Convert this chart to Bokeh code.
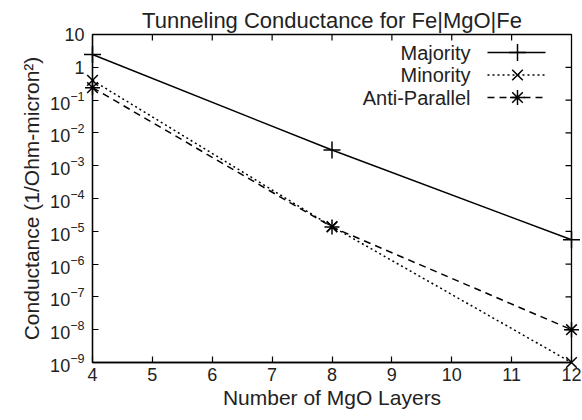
import math

from bokeh.plotting import figure
from bokeh.models import FixedTicker, LogTickFormatter, Range1d, ColumnDataSource
from bokeh.embed import file_html
from bokeh.resources import INLINE
from bokeh.core.properties import value

# Tunneling conductance vs. number of MgO layers
layers = [4, 8, 12]
majority = [2.45, 3.0e-3, 5.5e-6]
minority = [0.40, 1.4e-5, 1.0e-9]
anti_parallel = [0.24, 1.35e-5, 1.0e-8]

series_names = ["Majority", "Minority", "Anti-Parallel"]
x_ticks = [4, 5, 6, 7, 8, 9, 10, 11, 12]
y_ticks = [1e-9, 1e-8, 1e-7, 1e-6, 1e-5, 1e-4, 1e-3, 1e-2, 1e-1, 1, 10]

FONT = "Liberation Sans"
TITLE = "22px"
LBL = "21px"
KEY = "20px"
TICK = "18px"
INK = "#222222"

# frame geometry (pixels)
LEFT, RIGHT, TOP, BOTTOM = 92, 11, 34, 58
W, H = 582, 420
FW, FH = W - LEFT - RIGHT, H - TOP - BOTTOM

p = figure(width=W, height=H, y_axis_type="log",
           x_range=Range1d(4, 12), y_range=Range1d(1e-9, 10),
           output_backend="svg", toolbar_location=None,
           min_border_left=LEFT, min_border_right=RIGHT,
           min_border_top=TOP, min_border_bottom=BOTTOM,
           title="Tunneling Conductance for Fe|MgO|Fe")

p.title.align = "center"
p.title.text_font = FONT
p.title.text_font_size = TITLE
p.title.text_font_style = "normal"
p.title.text_color = INK
p.title.standoff = 3

p.grid.visible = False
p.outline_line_color = "black"
p.outline_line_width = 1.3
p.background_fill_color = "white"
p.border_fill_color = "white"


def style_axis(ax):
    ax.major_tick_in = 6
    ax.major_tick_out = 0
    ax.minor_tick_in = 0
    ax.minor_tick_out = 0
    ax.axis_line_color = "black"
    ax.axis_line_width = 1.3
    ax.major_tick_line_color = "black"
    ax.major_tick_line_width = 1.2
    ax.major_label_text_font = FONT
    ax.major_label_text_color = INK
    ax.major_label_text_font_size = TICK
    ax.axis_label_text_font = FONT
    ax.axis_label_text_font_size = LBL
    ax.axis_label_text_font_style = "normal"
    ax.axis_label_text_color = INK


# left (log) axis: 10 with superscript exponents, plain 1 and 10
yax = p.yaxis[0]
yax.ticker = FixedTicker(ticks=y_ticks)
yax.formatter = LogTickFormatter()
yax.major_label_overrides = {1: "1", 10: "10"}
style_axis(yax)
yax.major_label_standoff = 8
yax.axis_label = "Conductance (1/Ohm-micron\u00b2)"
yax.axis_label_standoff = 4

# bottom axis
xax = p.xaxis[0]
xax.ticker = FixedTicker(ticks=x_ticks)
style_axis(xax)
xax.major_label_standoff = 5
xax.axis_label = "Number of MgO Layers"
xax.axis_label_standoff = 2

# mirrored inward ticks on the top and right edges (half of each dash
# falls outside the frame and is clipped away)
y_top = y_ticks[-1]
x_right = x_ticks[-1]
p.scatter(x=x_ticks[1:-1], y=[y_top] * (len(x_ticks) - 2), marker="dash", size=12,
          angle=math.pi / 2, line_color="black", line_width=1.2)
p.scatter(x=[x_right] * (len(y_ticks) - 2), y=y_ticks[1:-1], marker="dash", size=12,
          line_color="black", line_width=1.2)

src = ColumnDataSource(dict(x=layers, maj=majority, mino=minority, ap=anti_parallel))

LW = 1.5
p.line("x", "maj", source=src, line_color="black", line_width=LW)
p.line("x", "mino", source=src, line_color="black", line_width=LW, line_dash="2 3")
p.line("x", "ap", source=src, line_color="black", line_width=LW, line_dash="7 5")

p.scatter("x", "maj", source=src, marker="cross", size=17, line_color="black",
          line_width=LW, level="overlay")
p.scatter("x", "mino", source=src, marker="x", size=15, line_color="black",
          line_width=LW, level="overlay")
p.scatter("x", "ap", source=src, marker="asterisk", size=15, line_color="black",
          line_width=LW, level="overlay")


# key in the upper right corner: label, then line sample with marker
def fx(px):
    return 4 + (px - LEFT) / FW * 8


def fy(py):
    return 10 ** (1 - (py - TOP) / FH * 10)


rows = [52, 74.5, 97]
markers = ["cross", "x", "asterisk"]
dashes = ["solid", "2 3", "7 5"]
sizes = [17, 15, 15]
for name, row, mk, dash, sz in zip(series_names, rows, markers, dashes, sizes):
    yk = fy(row)
    p.text(x=[fx(470)], y=[yk], text=[name], text_align="right", text_baseline="middle",
           text_font=value(FONT), text_font_size=KEY, text_color=INK)
    p.line(x=[fx(487), fx(545)], y=[yk, yk], line_color="black", line_width=LW, line_dash=dash)
    p.scatter(x=[fx(517)], y=[yk], marker=mk, size=sz, line_color="black", line_width=LW)

open("out.html", "w").write(file_html(p, INLINE))
